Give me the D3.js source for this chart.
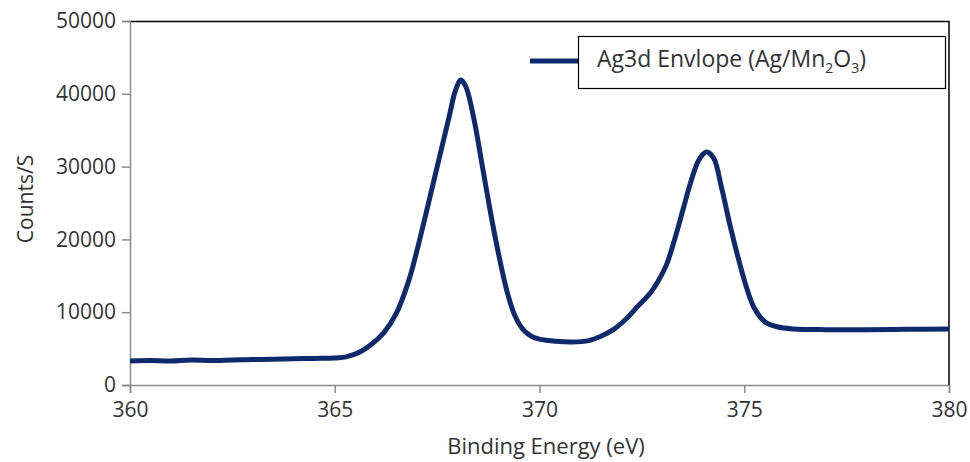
<!DOCTYPE html>
<html>
<head>
<meta charset="utf-8">
<script src="https://cdn.jsdelivr.net/npm/d3@7"></script>
<style>
    body { margin: 0; background: #fff; }
    text { font-family: "Open Sans", sans-serif; fill: #333; }
</style>
</head>
<body>
<div id="chart"></div>
<script>
// binding energy (eV) and counts/s
const energy = [360.0, 360.5, 361.0, 361.5, 362.0, 362.5, 363.0, 363.5, 364.0, 364.5, 365.0,
    365.3, 365.6, 365.9, 366.2, 366.5, 366.8, 367.0, 367.2, 367.4, 367.6, 367.8, 367.95, 368.08,
    368.2, 368.4, 368.6, 368.8, 369.0, 369.2, 369.4, 369.6, 369.8, 370.0, 370.4, 370.8, 371.2,
    371.5, 371.8, 372.1, 372.4, 372.7, 372.9, 373.1, 373.3, 373.5, 373.7, 373.9, 374.08, 374.25,
    374.45, 374.65, 374.85, 375.05, 375.25, 375.5, 375.8, 376.2, 377.0, 378.0, 379.0, 380.0];
const counts = [3300, 3350, 3300, 3450, 3350, 3450, 3500, 3550, 3600, 3650, 3700,
    3900, 4500, 5600, 7200, 9800, 14200, 18300, 22900, 27600, 32300, 37000, 40500, 41900,
    41000, 36500, 30200, 23800, 18000, 13000, 9500, 7600, 6700, 6300, 6000, 5900, 6100,
    6700, 7600, 9000, 10800, 12600, 14300, 16500, 20000, 24000, 28000, 31000, 32000, 31200,
    27000, 22000, 17500, 13500, 10500, 8700, 8000, 7700, 7600, 7600, 7650, 7700];
const xTicks = [360, 365, 370, 375, 380];
const yTicks = [0, 10000, 20000, 30000, 40000, 50000];
const seriesName = "Ag3d Envlope (Ag/Mn";

const lineColor = "#0f2a6c";
const margin = { top: 21, right: 21, bottom: 77, left: 130 };
const W = 970, H = 462;
const width = W - margin.left - margin.right;
const height = H - margin.top - margin.bottom;

const svg = d3.select("#chart").append("svg")
    .attr("width", W)
    .attr("height", H);

const g = svg.append("g")
    .attr("transform", `translate(${margin.left},${margin.top})`);

const x = d3.scaleLinear().domain([360, 380]).range([0, width]);
const y = d3.scaleLinear().domain([0, 50000]).range([height, 0]);

// top and right frame
g.append("path")
    .attr("d", `M0,0.5H${width}V${height}`)
    .attr("fill", "none")
    .attr("stroke", "#000")
    .attr("stroke-width", 1.5);

const xAxis = g.append("g")
    .attr("transform", `translate(0,${height})`)
    .call(d3.axisBottom(x).tickValues(xTicks).tickSize(8).tickPadding(6).tickFormat(d3.format("d")));

const yAxis = g.append("g")
    .call(d3.axisLeft(y).tickValues(yTicks).tickSize(8).tickPadding(6).tickFormat(d3.format("d")));

[xAxis, yAxis].forEach(a => {
    a.selectAll("path, line").attr("stroke", "#8a8a8a").attr("stroke-width", 1.5);
    a.selectAll("text").style("font-size", "21px").style("font-family", "Open Sans").attr("fill", "#333");
});
xAxis.selectAll("text").attr("dy", "0.85em");

const data = energy.map((e, i) => ({ e: e, c: counts[i] }));

g.append("path")
    .datum(data)
    .attr("fill", "none")
    .attr("stroke", lineColor)
    .attr("stroke-width", 5)
    .attr("stroke-linejoin", "round")
    .attr("d", d3.line().x(d => x(d.e)).y(d => y(d.c)).curve(d3.curveCatmullRom.alpha(0.5)));

// axis titles
svg.append("text")
    .attr("x", 546)
    .attr("y", 454)
    .attr("text-anchor", "middle")
    .style("font-size", "22px")
    .text("Binding Energy (eV)");

svg.append("text")
    .attr("transform", `translate(33,199) rotate(-90)`)
    .attr("text-anchor", "middle")
    .style("font-size", "21px")
    .text("Counts/S");

// legend
const leg = svg.append("g");
leg.append("line")
    .attr("x1", 530).attr("x2", 578)
    .attr("y1", 61).attr("y2", 61)
    .attr("stroke", lineColor)
    .attr("stroke-width", 5);
leg.append("rect")
    .attr("x", 578.5).attr("y", 36.5)
    .attr("width", 367).attr("height", 52)
    .attr("fill", "#fff")
    .attr("stroke", "#000")
    .attr("stroke-width", 1.2);
const lt = leg.append("text")
    .attr("x", 597).attr("y", 67)
    .style("font-size", "23px")
    .attr("fill", "#111");
lt.append("tspan").text(seriesName);
lt.append("tspan").attr("dy", 6).style("font-size", "14px").text("2");
lt.append("tspan").attr("dy", -6).text("O");
lt.append("tspan").attr("dy", 6).style("font-size", "14px").text("3");
lt.append("tspan").attr("dy", -6).text(")");
</script>
</body>
</html>
